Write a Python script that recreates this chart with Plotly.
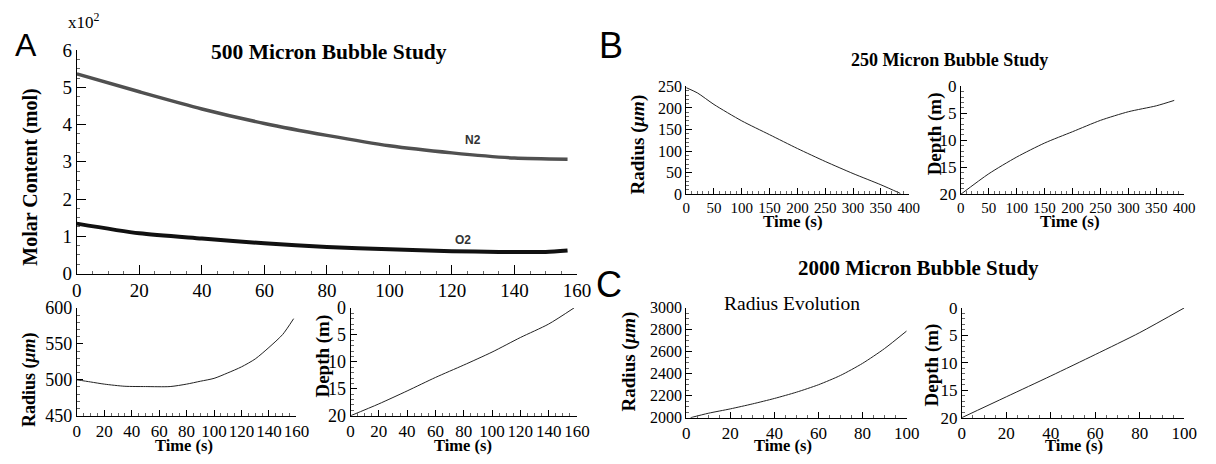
import plotly.graph_objects as go

W, H = 1216, 464

# ---------------- data ----------------
# Panel A (500 micron)
a_t_n2 = [0, 20, 40, 60, 80, 100, 120, 140, 157]
a_n2 = [5.36, 4.88, 4.42, 4.03, 3.71, 3.43, 3.24, 3.10, 3.07]
a_t_o2 = [0, 20, 40, 60, 80, 100, 120, 135, 150, 157]
a_o2 = [1.34, 1.08, 0.94, 0.81, 0.71, 0.65, 0.60, 0.58, 0.58, 0.62]

a_t_rad = [0, 10, 20, 35, 50, 68, 80, 90, 100, 110, 120, 130, 140, 150, 158]
a_rad = [500, 497, 494, 491, 490.6, 490.6, 494, 498, 502, 509.6, 518, 529, 545, 563, 585]

a_t_dep = [0, 20, 40, 60, 80, 100, 120, 140, 158]
a_dep = [20, 17.8, 15.4, 12.9, 10.6, 8.2, 5.5, 3.0, 0]

# Panel B (250 micron)
b_t_rad = [0, 20, 50, 100, 150, 200, 250, 300, 350, 385]
b_rad = [247, 235, 208, 170, 138, 106, 76, 48, 22, 2]
b_t_dep = [0, 50, 100, 150, 200, 250, 300, 350, 382]
b_dep = [20, 16.2, 13.1, 10.5, 8.4, 6.3, 4.7, 3.6, 2.6]

# Panel C (2000 micron)
c_t_rad = [2, 10, 20, 30, 40, 50, 60, 70, 80, 90, 100]
c_rad = [2000, 2040, 2080, 2125, 2175, 2232, 2300, 2385, 2495, 2630, 2790]
c_t_dep = [0, 20, 40, 60, 80, 100]
c_dep = [20, 16.2, 12.4, 8.5, 4.5, 0]

# ---------------- helpers ----------------
def xd(p0, p1):
    return [p0 / W, p1 / W]

def yd(top, bottom):
    return [1 - bottom / H, 1 - top / H]

def px(x):
    return x / W

def py(y):
    return 1 - y / H

SERIF = "Liberation Serif"
fig = go.Figure()

def line(x, y, ax, color="#222", width=1):
    fig.add_trace(go.Scatter(x=x, y=y, mode="lines", xaxis="x" + ax, yaxis="y" + ax,
                             line=dict(color=color, width=width, shape="spline", smoothing=0.7),
                             showlegend=False, hoverinfo="skip", cliponaxis=False))

line(a_t_n2, a_n2, "", color="#505050", width=3.5)
line(a_t_o2, a_o2, "", color="#111111", width=4)
line(a_t_rad, a_rad, "2")
line(a_t_dep, a_dep, "3")
line(b_t_rad, b_rad, "4")
line(b_t_dep, b_dep, "5")
line(c_t_rad, c_rad, "6")
line(c_t_dep, c_dep, "7")

def axis(domain, rng, dtick, size, anchor=None, minor_dtick=None, ticklen=6):
    d = dict(domain=domain, range=rng, dtick=dtick, tick0=0, tickangle=0,
             showgrid=False, zeroline=False, showline=True, linecolor="black", linewidth=1,
             ticks="inside", ticklen=ticklen, tickcolor="black", tickwidth=1,
             tickfont=dict(family=SERIF, size=size, color="black"),
             anchor=anchor, fixedrange=True)
    if minor_dtick:
        d["minor"] = dict(dtick=minor_dtick, ticks="inside", ticklen=3, tickcolor="#666")
    return d

layout = dict(
    width=W, height=H, margin=dict(l=0, r=0, t=0, b=0),
    paper_bgcolor="white", plot_bgcolor="white",
    # A top
    xaxis=axis(xd(73, 581), [0, 160], 20, 19, anchor="y", minor_dtick=5, ticklen=9),
    yaxis=axis(yd(42, 276), [0, 6], 1, 19, anchor="x", minor_dtick=0.25, ticklen=9),
    # A bottom-left
    xaxis2=axis(xd(73, 296), [0, 160], 20, 17, anchor="y2", minor_dtick=5),
    yaxis2=axis(yd(312, 425), [450, 600], 50, 18, anchor="x2", minor_dtick=10),
    # A bottom-right
    xaxis3=axis(xd(351, 581), [0, 160], 20, 17, anchor="y3", minor_dtick=5),
    yaxis3=axis(yd(312, 425), [20, 0], 5, 18, anchor="x3", minor_dtick=1),
    # B left
    xaxis4=axis(xd(692, 918), [0, 400], 50, 15, anchor="y4", minor_dtick=10),
    yaxis4=axis(yd(80, 193), [0, 250], 50, 16, anchor="x4", minor_dtick=10),
    # B right
    xaxis5=axis(xd(971, 1198), [0, 400], 50, 15, anchor="y5", minor_dtick=10),
    yaxis5=axis(yd(80, 193), [20, 0], 5, 17, anchor="x5", minor_dtick=1),
    # C left
    xaxis6=axis(xd(692, 916), [0, 100], 20, 17, anchor="y6", minor_dtick=5),
    yaxis6=axis(yd(312, 427), [2000, 3000], 200, 16, anchor="x6", minor_dtick=50),
    # C right
    xaxis7=axis(xd(972, 1198), [0, 100], 20, 17, anchor="y7", minor_dtick=5),
    yaxis7=axis(yd(312, 427), [20, 0], 5, 17, anchor="x7", minor_dtick=1),
)
fig.update_layout(**layout)

anns = []

def txt(x, y, text, size, bold=False, angle=0, family=SERIF, xanchor="center", yanchor="middle", color="black"):
    t = "<b>" + text + "</b>" if bold else text
    anns.append(dict(x=px(x), y=py(y), xref="paper", yref="paper", text=t, showarrow=False,
                     textangle=angle, xanchor=xanchor, yanchor=yanchor,
                     font=dict(family=family, size=size, color=color)))

# panel letters
txt(21, 37, "A", 32, family="Liberation Sans")
txt(616, 37, "B", 36, family="Liberation Sans")
txt(614, 287, "C", 36, family="Liberation Sans")

# titles
txt(329, 44, "500 Micron Bubble Study", 21.5, bold=True)
txt(959, 52, "250 Micron Bubble Study", 18, bold=True)
txt(928, 270, "2000 Micron Bubble Study", 21, bold=True)
txt(799, 307, "Radius Evolution", 19.5)

# exponent
txt(62, 12, "x10<sup>2</sup>", 17, xanchor="left")

# series labels
anns.append(dict(x=126.6, y=3.59, xref="x", yref="y", text="<b>N2</b>", showarrow=False,
                 font=dict(family="Liberation Sans", size=12, color="#333")))
anns.append(dict(x=123.6, y=0.9, xref="x", yref="y", text="<b>O2</b>", showarrow=False,
                 font=dict(family="Liberation Sans", size=12, color="#333")))

# axis titles
txt(25, 175, "Molar Content (mol)", 20, bold=True, angle=-90)
txt(25, 387, "Radius (<i>μm</i>)", 18, bold=True, angle=-90)
txt(182, 456, "Time (s)", 16.5, bold=True)
txt(323, 362, "Depth (m)", 19, bold=True, angle=-90)
txt(465, 456, "Time (s)", 16.5, bold=True)

txt(643, 141, "Radius (<i>μm</i>)", 19, bold=True, angle=-90)
txt(801, 222, "Time (s)", 17, bold=True)
txt(945, 130, "Depth (m)", 19, bold=True, angle=-90)
txt(1082, 222, "Time (s)", 17, bold=True)

txt(634, 368, "Radius (<i>μm</i>)", 19, bold=True, angle=-90)
txt(790, 456, "Time (s)", 16.5, bold=True)
txt(942, 372, "Depth (m)", 19, bold=True, angle=-90)
txt(1086, 456, "Time (s)", 16.5, bold=True)

fig.update_layout(annotations=anns)
fig.write_html("out.html")
